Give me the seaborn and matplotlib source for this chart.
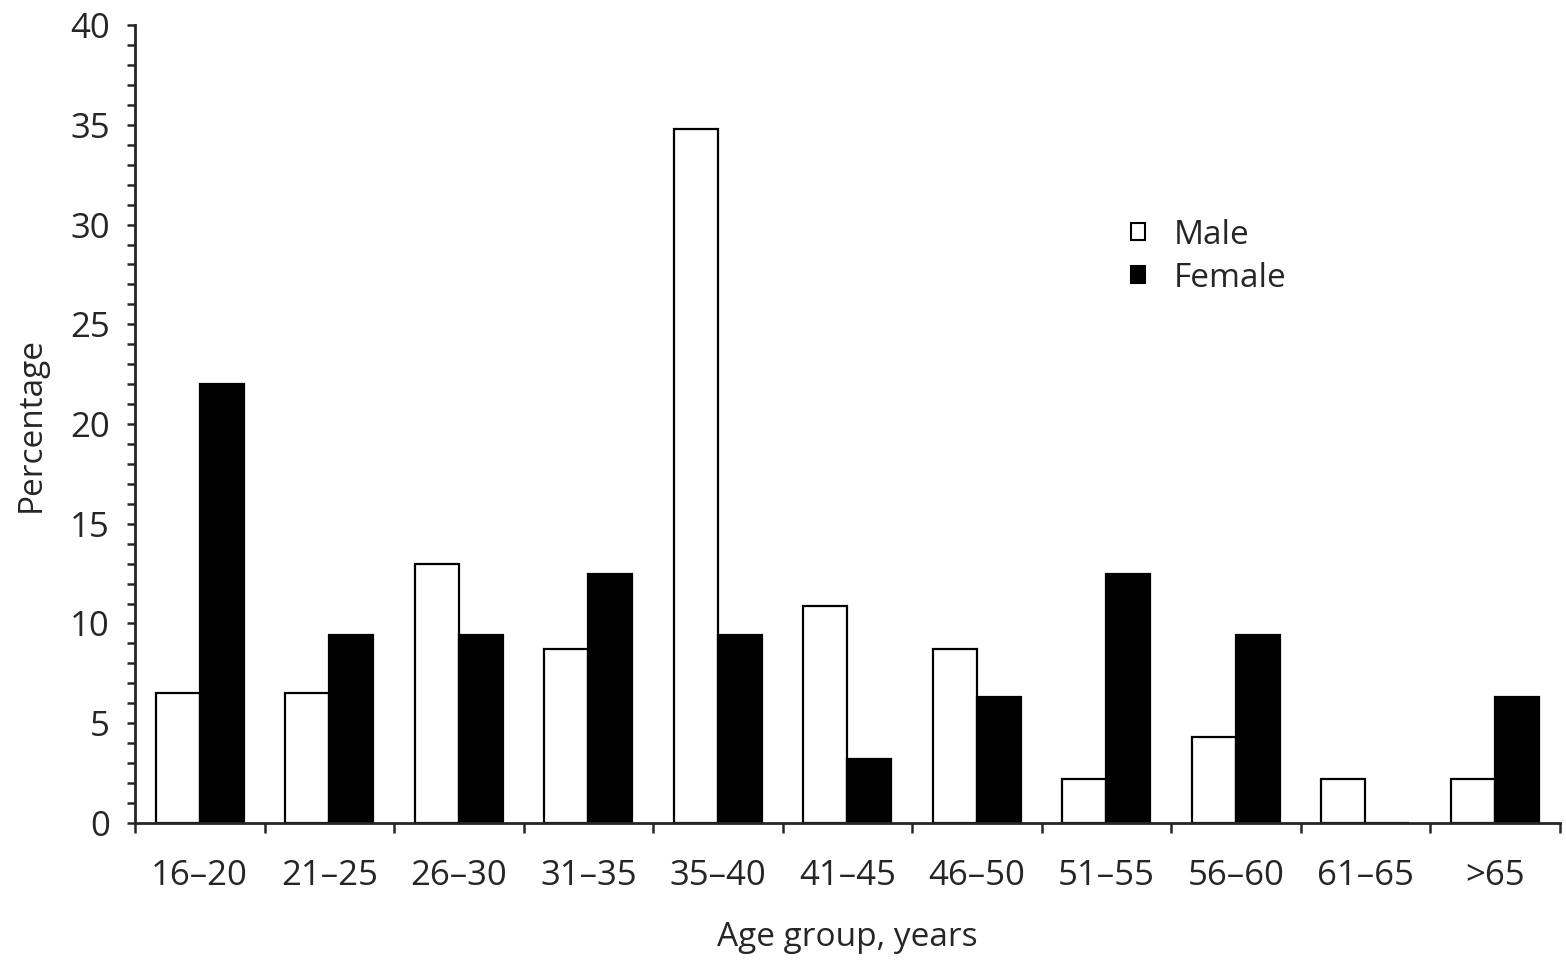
import numpy as np
import pandas as pd
import matplotlib
matplotlib.use('Agg')
import matplotlib.pyplot as plt
import seaborn as sns
from matplotlib.patches import Patch
from matplotlib.ticker import MultipleLocator

# ── Dados ─────────────────────────────────────────────────────────────────────
age_groups = ['16–20', '21–25', '26–30', '31–35', '35–40', '41–45',
              '46–50', '51–55', '56–60', '61–65', '>65']
male   = [6.5, 6.5, 13.0, 8.7, 34.8, 10.9, 8.7, 2.2, 4.3, 2.2, 2.2]
female = [22.0, 9.4, 9.4, 12.5, 9.4, 3.2, 6.3, 12.5, 9.4, 0.0, 6.3]
sexes  = ['Male', 'Female']

df = pd.DataFrame({
    'Age group': age_groups * 2,
    'Sex': ['Male'] * len(age_groups) + ['Female'] * len(age_groups),
    'Percentage': male + female,
})

sns.set_style('ticks')
plt.rcParams['font.family'] = ['Open Sans', 'DejaVu Sans']

fig = plt.figure(figsize=(15.66, 9.67), dpi=100)
ax = fig.add_axes([0.0862, 0.149, 0.9098, 0.825])

sns.barplot(data=df, x='Age group', y='Percentage', hue='Sex', order=age_groups,
            hue_order=sexes, palette={'Male': 'white', 'Female': 'black'},
            edgecolor='black', linewidth=1.6, width=0.68, saturation=1,
            ax=ax, legend=False)

# ── Eixos ─────────────────────────────────────────────────────────────────────
ax.set_xlim(-0.5, len(age_groups) - 0.5)
ax.set_ylim(0, 40)
ax.yaxis.set_major_locator(MultipleLocator(5))
ax.yaxis.set_minor_locator(MultipleLocator(1))
ax.set_xticks(np.arange(len(age_groups)))
ax.set_xticklabels(age_groups)
ax.set_xticks(np.arange(-0.5, len(age_groups)), minor=True)
ax.tick_params(axis='x', which='major', length=0, pad=26, labelsize=25)
ax.tick_params(axis='x', which='minor', length=7, width=1.8, direction='out')
ax.tick_params(axis='y', which='both', length=6, width=1.8, direction='out')
ax.tick_params(axis='y', which='major', pad=12, labelsize=25)

for s in ['top', 'right']:
    ax.spines[s].set_visible(False)
for s in ['left', 'bottom']:
    ax.spines[s].set_linewidth(2)

ax.set_xlabel('Age group, years', fontsize=24, labelpad=20)
ax.set_ylabel('Percentage', fontsize=24, labelpad=16)

handles = [Patch(facecolor='white', edgecolor='black', linewidth=1.5, label='Male'),
           Patch(facecolor='black', edgecolor='black', linewidth=1.5, label='Female')]
ax.legend(handles=handles, loc='upper left', bbox_to_anchor=(0.678, 0.795),
          frameon=False, fontsize=24, handlelength=0.42, handleheight=0.42,
          handletextpad=0.85, labelspacing=0.3)

plt.savefig('out.png', dpi=100)
plt.close()
